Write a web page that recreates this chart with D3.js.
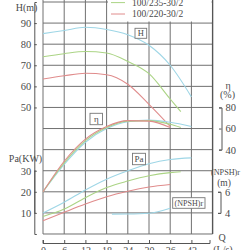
<!DOCTYPE html>
<html><head><meta charset="utf-8">
<script src="https://cdn.jsdelivr.net/npm/d3@7/dist/d3.min.js"></script>
<style>
html,body{margin:0;padding:0;background:#fff;overflow:hidden}
svg{display:block}
text{font-family:"Liberation Serif","DejaVu Serif",serif;fill:#4a4a4a}
</style></head>
<body><svg id="c" width="250" height="250"></svg>
<script>
// ---- data ----
const seriesNames = ["100/250-30/2","100/235-30/2","100/220-30/2"];
const seriesColors = ["#9ed6e6","#abd485","#e08c8c"];
const qTicks = [0,6,12,18,24,30,36,42];
const hTicks = [90,80,70,60,50];
const etaTicks = [80,60,40];
const paTicks = [30,20,10];
const npshTicks = [6,4];

const qBlue  = [0,6,12,18,24,30,36,42];
const qGreen = [0,6,12,18,24,30,36,39];
const qRed   = [0,6,12,18,24,30,36];

const hBlue  = [85,86.5,88,87,84.5,79.5,70,55];
const hGreen = [74,75.5,76.5,75.8,71.8,66,54,48];
const hRed   = [63.5,65,66.2,65.5,61,51.5,41];

const etaBlue  = [0,26,47,60,66.5,68,66,62];
const etaGreen = [0,27.5,48.5,61,67,67.5,64,61];
const etaRed   = [0,29,50,62,67.5,67,61];

const paBlue  = [10,15.1,20.9,26,30,33.3,35.3,36.1];
const paGreen = [8.3,11.8,17.2,22,25.1,27.6,29.1,29.5];
const paRed   = [6.3,10.3,14.2,17.7,20.3,22.3,23.5];

const npshQ    = [19.5,24,30,36];
const npshBlue = [3.88,3.89,3.97,4.45];

// ---- scales ----
const svg = d3.select("#c");
const top0 = 2, step = 21.09;
const x = d3.scaleLinear().domain([0,48]).range([43,212.6]);
const yH = d3.scaleLinear().domain([100,-10]).range([top0, top0+11*step]);
const yEta = d3.scaleLinear().domain([80,40]).range([top0+5*step, top0+7*step]);
const yPa = d3.scaleLinear().domain([30,0]).range([top0+8*step, top0+11*step]);
const yN = d3.scaleLinear().domain([6,4]).range([top0+9*step, top0+10*step]);

// ---- grid ----
const g = svg.append("g");
const gridRows = d3.range(-10,101,10);
g.selectAll("line.h").data(gridRows).enter().append("line")
  .attr("x1",x(0)).attr("x2",x(48)).attr("y1",d=>yH(d)).attr("y2",d=>yH(d))
  .attr("stroke","#707070").attr("stroke-width",1);
g.selectAll("line.v").data(d3.range(0,49,6)).enter().append("line")
  .attr("x1",d=>x(d)).attr("x2",d=>x(d)).attr("y1",-5).attr("y2",yH(-10))
  .attr("stroke",d=>d===48?"#555":"#707070").attr("stroke-width",d=>d===48?1.4:1);

// ---- curves ----
const line = (qs, vs, ys) => d3.line().x((d,i)=>x(qs[i])).y(d=>ys(d)).curve(d3.curveMonotoneX)(vs);
const curves = [
  [qBlue,hBlue,yH,0],[qGreen,hGreen,yH,1],[qRed,hRed,yH,2],
  [qBlue,etaBlue,yEta,0],[qGreen,etaGreen,yEta,1],[qRed,etaRed,yEta,2],
  [qBlue,paBlue,yPa,0],[qGreen,paGreen,yPa,1],[qRed,paRed,yPa,2],
  [npshQ,npshBlue,yN,0]
];
svg.append("g").selectAll("path").data(curves).enter().append("path")
  .attr("d",d=>line(d[0],d[1],d[2]))
  .attr("fill","none").attr("stroke",d=>seriesColors[d[3]]).attr("stroke-width",1.1);

// ---- legend (first entry lies above the visible area in the reference) ----
const lg = svg.append("g");
lg.append("rect").attr("x",108).attr("y",-30).attr("width",103.5).attr("height",51.5).attr("fill","#fff");
seriesNames.forEach((n,i)=>{
  if (i === 0) return;
  const yy = 14 - (2-i)*11.4;
  lg.append("line").attr("x1",111).attr("x2",125).attr("y1",yy).attr("y2",yy)
    .attr("stroke",seriesColors[i]).attr("stroke-width",1);
  lg.append("text").attr("x",132).attr("y",yy+3.3).attr("font-size",9.5).text(n);
});

// ---- boxed labels ----
function box(x0,y0,w,h,t,fs){
  svg.append("rect").attr("x",x0).attr("y",y0).attr("width",w).attr("height",h)
    .attr("fill","#fff").attr("stroke","#777").attr("stroke-width",0.9);
  svg.append("text").attr("x",x0+w/2).attr("y",y0+h/2+3).attr("text-anchor","middle")
    .attr("font-size",fs).text(t);
}
box(135,28.3,11.7,10,"H",8.5);
box(90,113.3,12.5,11.4,"η",9);
box(132.5,153.3,13,11.4,"Pa",9);
box(172.7,197.7,32.3,10.6,"(NPSH)r",8);

// ---- axes ----
function styleAxis(sel,fs){
  sel.selectAll("path").attr("stroke","#555");
  sel.selectAll("line").attr("stroke","#555");
  sel.selectAll("text").attr("font-size",fs).attr("fill","#4a4a4a").attr("font-family","Liberation Serif, serif");
}
const fmt = d3.format("d");
const aH = svg.append("g").attr("transform","translate(34.3,0)")
  .call(d3.axisLeft(yH).tickValues(hTicks).tickFormat(fmt).tickSize(-2.5).tickPadding(3));
styleAxis(aH,10.5);
const aPa = svg.append("g").attr("transform","translate(34.3,0)")
  .call(d3.axisLeft(yPa).tickValues(paTicks).tickFormat(fmt).tickSize(-2.5).tickPadding(3));
aPa.select(".domain").attr("d",`M1,${yPa(30)}H0.5V${yPa(10)}H1`);
styleAxis(aPa,10.5);
const aEta = svg.append("g").attr("transform","translate(221.5,0)")
  .call(d3.axisRight(yEta).tickValues(etaTicks).tickFormat(fmt).tickSize(-2.5).tickPadding(4));
styleAxis(aEta,10.5);
const aN = svg.append("g").attr("transform","translate(220.5,0)")
  .call(d3.axisRight(yN).tickValues(npshTicks).tickFormat(fmt).tickSize(-2.5).tickPadding(4.5));
styleAxis(aN,10.5);
const aQ = svg.append("g").attr("transform","translate(0,243)")
  .call(d3.axisBottom(x).tickValues(qTicks).tickFormat(fmt).tickSize(-3).tickSizeOuter(-3).tickPadding(4));
aQ.select(".domain").attr("d",`M${x(0)},-3V0.5H210V-3`);
styleAxis(aQ,10);

// ---- axis titles ----
svg.append("text").attr("x",26.5).attr("y",11).attr("text-anchor","middle").attr("font-size",10).text("H(m)");
svg.append("text").attr("x",25.5).attr("y",162).attr("text-anchor","middle").attr("font-size",10).text("Pa(KW)");
svg.append("text").attr("x",228).attr("y",88.5).attr("text-anchor","middle").attr("font-size",10).text("η");
svg.append("text").attr("x",227.5).attr("y",98).attr("text-anchor","middle").attr("font-size",10).text("(%)");
svg.append("text").attr("x",225.5).attr("y",175).attr("text-anchor","middle").attr("font-size",8.2).text("(NPSH)r");
svg.append("text").attr("x",224).attr("y",185.5).attr("text-anchor","middle").attr("font-size",9.5).text("(m)");
svg.append("text").attr("x",222).attr("y",240.5).attr("text-anchor","middle").attr("font-size",10).text("Q");
svg.append("text").attr("x",223).attr("y",253).attr("text-anchor","middle").attr("font-size",10).text("(L/s)");
</script></body></html>
